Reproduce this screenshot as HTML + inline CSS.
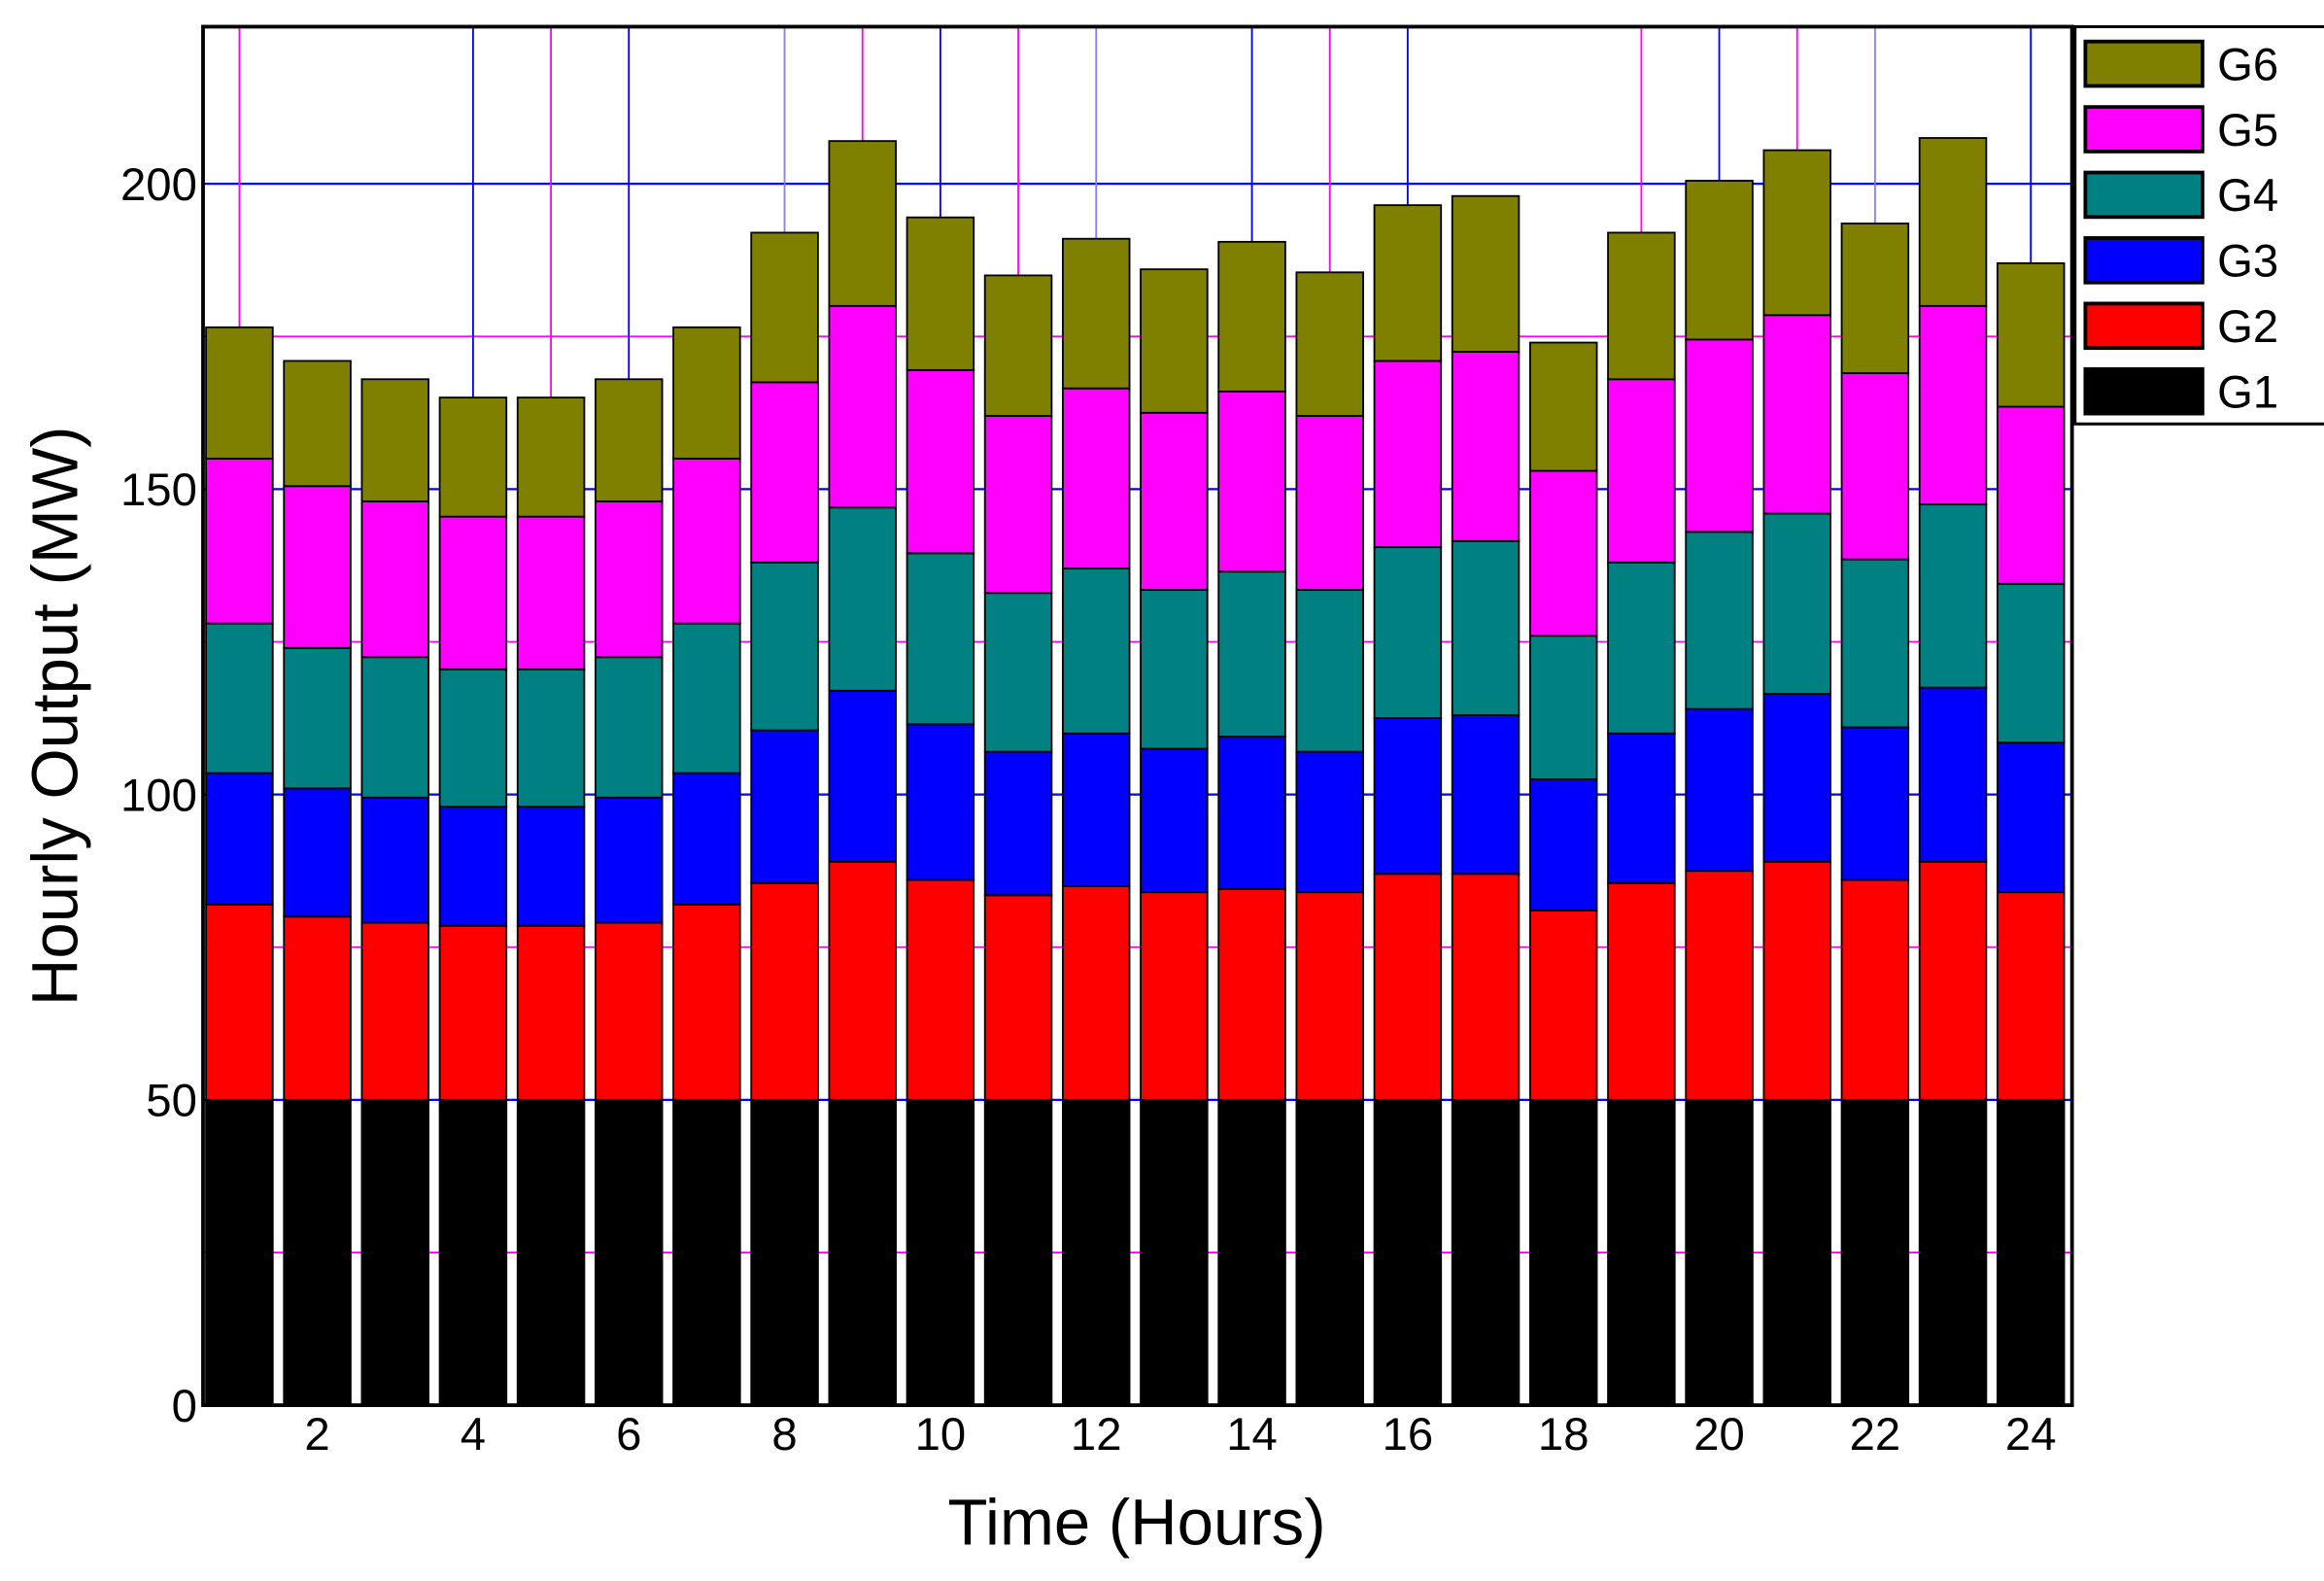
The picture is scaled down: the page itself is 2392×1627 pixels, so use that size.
<!DOCTYPE html>
<html><head><meta charset="utf-8"><style>
html,body{margin:0;padding:0;background:#fff;}
svg{display:block;font-family:"Liberation Sans",Arial,sans-serif;}
</style></head><body>
<svg id="chart" width="2392" height="1627" viewBox="0 0 1568 1066.6" preserveAspectRatio="none" xmlns="http://www.w3.org/2000/svg">
<g id="grid"></g>
<g id="bars"></g>
<g id="axes"></g>
<g id="legend"></g>
</svg>
<script>
const hours = [1,2,3,4,5,6,7,8,9,10,11,12,13,14,15,16,17,18,19,20,21,22,23,24];
const seriesNames = ["G1","G2","G3","G4","G5","G6"];
const seriesColors = ["#000000","#ff0000","#0000ff","#008080","#ff00ff","#808000"];
const g1 = [50,50,50,50,50,50,50,50,50,50,50,50,50,50,50,50,50,50,50,50,50,50,50,50];
const g2 = [32,30,29,28.5,28.5,29,32,35.5,39,36,33.5,35,34,34.5,34,37,37,31,35.5,37.5,39,36,39,34];
const g3 = [21.5,21,20.5,19.5,19.5,20.5,21.5,25,28,25.5,23.5,25,23.5,25,23,25.5,26,21.5,24.5,26.5,27.5,25,28.5,24.5];
const g4 = [24.5,23,23,22.5,22.5,23,24.5,27.5,30,28,26,27,26,27,26.5,28,28.5,23.5,28,29,29.5,27.5,30,26];
const g5 = [27,26.5,25.5,25,25,25.5,27,29.5,33,30,29,29.5,29,29.5,28.5,30.5,31,27,30,31.5,32.5,30.5,32.5,29];
const g6 = [21.5,20.5,20,19.5,19.5,20,21.5,24.5,27,25,23,24.5,23.5,24.5,23.5,25.5,25.5,21,24,26,27,24.5,27.5,23.5];
const yTicks = [0,50,100,150,200];
const xTicks = [2,4,6,8,10,12,14,16,18,20,22,24];
const blueGridH = [50,100,150,200];
const pinkGridH = [25,75,125,175];
const blueGridV = [4,6,10,14,16,20,24];
const lightBlueGridV = [8,12,22];
const pinkGridV = [1,5,9,11,15,19,21];

const NS="http://www.w3.org/2000/svg";
const L=137,R=1398,T=18,B=948;
function x(h){return 135.25+52.55*(h-0.5);}
function y(v){return B-4.12*v;}
function mk(tag,attrs,parent){const e=document.createElementNS(NS,tag);for(const k in attrs)e.setAttribute(k,attrs[k]);parent.appendChild(e);return e;}
const grid=document.getElementById('grid'),bars=document.getElementById('bars'),axes=document.getElementById('axes'),legend=document.getElementById('legend');

mk('rect',{x:L,y:T,width:R-L,height:B-T,fill:'#fff'},grid);
blueGridH.forEach(v=>{const l=mk('line',{x1:L,x2:R,y1:y(v),y2:y(v),stroke:'#0000ff','stroke-width':1.5},grid);

});
pinkGridH.forEach(v=>{const l=mk('line',{x1:L,x2:R,y1:y(v),y2:y(v),stroke:'#ff00ff','stroke-width':1.2},grid);

});
blueGridV.forEach(h=>{const l=mk('line',{x1:x(h),x2:x(h),y1:T,y2:B,stroke:'#0000ff','stroke-width':1.2},grid);

});
lightBlueGridV.forEach(h=>{const l=mk('line',{x1:x(h),x2:x(h),y1:T,y2:B,stroke:'#8080ff','stroke-width':1.2},grid);

});
pinkGridV.forEach(h=>{const l=mk('line',{x1:x(h),x2:x(h),y1:T,y2:B,stroke:'#ff00ff','stroke-width':1.2},grid);

});

const series=[g1,g2,g3,g4,g5,g6];
const bw=45;
hours.forEach((h,i)=>{
  let base=0;
  series.forEach((s,k)=>{
    const top=base+s[i];
    const r=mk('rect',{x:x(h)-bw/2,y:y(top),width:bw,height:y(base)-y(top),fill:seriesColors[k],stroke:'#000','stroke-width':1.2},bars);
    
    
    base=top;
  });
});

mk('rect',{x:L,y:T,width:R-L,height:B-T,fill:'none',stroke:'#000','stroke-width':2.5},axes);
yTicks.forEach(v=>{const t=mk('text',{x:133,y:y(v)+11,'text-anchor':'end','font-size':31},axes);t.textContent=v;

});
xTicks.forEach(h=>{const t=mk('text',{x:x(h),y:978,'text-anchor':'middle','font-size':31},axes);t.textContent=h;

});
const yt=mk('text',{x:0,y:0,transform:'translate(52,483) rotate(-90)','text-anchor':'middle','font-size':44},axes);yt.textContent='Hourly Output (MW)';


const xt=mk('text',{x:767,y:1042,'text-anchor':'middle','font-size':44},axes);xt.textContent='Time (Hours)';



const lb=mk('rect',{x:1400,y:18,width:170,height:268,fill:'#fff',stroke:'#000','stroke-width':2},legend);


for(let k=5;k>=0;k--){
  const cy=43+(5-k)*44.2;
  const g=mk('g',{},legend);
  
  
  mk('rect',{x:1407,y:cy-15,width:79,height:30,fill:seriesColors[k],stroke:'#000','stroke-width':2.5},g);
  const t=mk('text',{x:1496,y:cy+11,'font-size':31},g);t.textContent=seriesNames[k];
}
</script>
</body></html>
